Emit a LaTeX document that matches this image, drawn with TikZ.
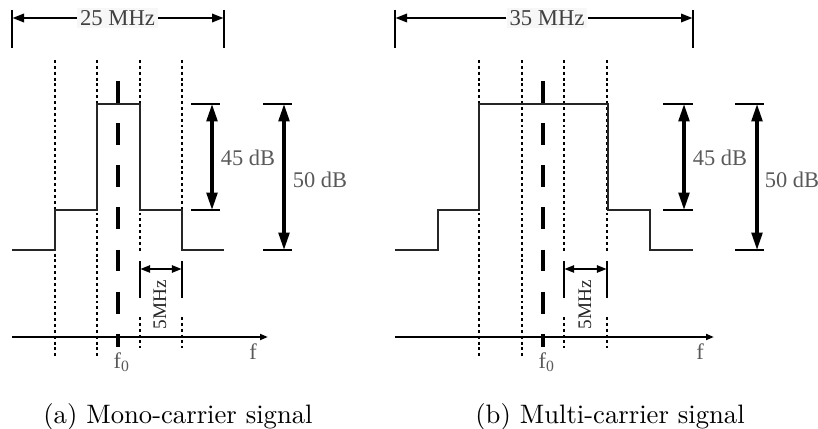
\documentclass[tikz,border=0pt]{standalone}
\usepackage{fontspec}
\newfontfamily\lbl{Liberation Serif}
\usetikzlibrary{arrows.meta}
\begin{document}
\begin{tikzpicture}[x=0.375pt,y=-0.375pt,
 sig/.style={line width=0.9pt, line join=miter, black!85},
 dotl/.style={line width=0.75pt, dash pattern=on 1.1pt off 1.1pt},
 ctr/.style={line width=1.3pt, dash pattern=on 8.2pt off 7.6pt},
 tickl/.style={line width=0.65pt},
 dimbig/.style={line width=1.2pt, {Triangle[length=6.5pt,width=4pt]}-{Triangle[length=6.5pt,width=4pt]}},
 dimtop/.style={line width=1.1pt, -{Triangle[length=4.5pt,width=3pt]}},
 dimsm/.style={line width=1pt, {Triangle[length=3.8pt,width=2.6pt]}-{Triangle[length=3.8pt,width=2.6pt]}},
 axisl/.style={line width=0.85pt, -{Triangle[length=3pt,width=2.2pt]}},
 lab/.style={font=\lbl\fontsize{8.4}{9}\selectfont, text=black!65, inner sep=0.5pt},
 toplab/.style={font=\lbl\fontsize{8.5}{9}\selectfont, text=black!75, fill=black!3, inner sep=1pt},
 rotlab/.style={font=\lbl\fontsize{7.2}{8}\selectfont, text=black!85, rotate=90, inner sep=0.5pt},
 captxt/.style={font=\normalsize, text=black, inner sep=0pt},
]
\useasboundingbox (0,0) rectangle (818,429);

% ================= Panel (a) =================
\coordinate (a-tl1) at (12,10);  \coordinate (a-tl2) at (12,48);
\coordinate (a-tr1) at (224,10); \coordinate (a-tr2) at (224,48);
\coordinate (a-tl) at (12,18);   \coordinate (a-tr) at (224,18);
\draw[tickl] (a-tl1) -- (a-tl2);
\draw[tickl] (a-tr1) -- (a-tr2);
\node[toplab] (a-w) at (117.5,18) {25 MHz};
\draw[dimtop] (a-w.west) -- (a-tl);
\draw[dimtop] (a-w.east) -- (a-tr);

\draw[dotl] (55,60) -- (55,358);
\draw[dotl] (97,60) -- (97,358);
\draw[dotl] (140,60) -- (140,252);
\draw[dotl] (140,317) -- (140,348);
\draw[dotl] (182,60) -- (182,252);
\draw[dotl] (182,317) -- (182,348);

\draw[ctr] (118,81) -- (118,347);

\draw[sig] (12,250) -- (55,250) -- (55,210) -- (97,210) -- (97,104) -- (140,104)
  -- (140,210) -- (182,210) -- (182,250) -- (224,250);

\coordinate (a-45t) at (212,104); \coordinate (a-45b) at (212,210);
\draw[tickl] (191,104) -- (220,104);
\draw[tickl] (191,210) -- (220,210);
\draw[dimbig] (a-45t) -- (a-45b);
\node[lab] (a-45) at (248,158) {45 dB};

\coordinate (a-50t) at (284,104); \coordinate (a-50b) at (284,250);
\draw[tickl] (263,104) -- (292,104);
\draw[tickl] (263,250) -- (292,250);
\draw[dimbig] (a-50t) -- (a-50b);
\node[lab] (a-50) at (320,180) {50 dB};

\coordinate (a-5l) at (140,269); \coordinate (a-5r) at (182,269);
\draw[tickl] (140,261) -- (140,298);
\draw[tickl] (182,261) -- (182,298);
\draw[dimsm] (a-5l) -- (a-5r);
\node[rotlab] (a-5) at (160,305) {5MHz};

\coordinate (a-x0) at (12,337); \coordinate (a-x1) at (268,337);
\draw[axisl] (a-x0) -- (a-x1);
\node[lab] (a-f) at (253,352) {f};
\node[lab] (a-f0) at (122,362) {f\textsubscript{0}};

\node[captxt] (a-cap) at (178,417) {(a) Mono-carrier signal};

% ================= Panel (b) =================
\coordinate (b-tl1) at (395,10);  \coordinate (b-tl2) at (395,48);
\coordinate (b-tr1) at (693,10);  \coordinate (b-tr2) at (693,48);
\coordinate (b-tl) at (395,18);   \coordinate (b-tr) at (693,18);
\draw[tickl] (b-tl1) -- (b-tl2);
\draw[tickl] (b-tr1) -- (b-tr2);
\node[toplab] (b-w) at (547,18) {35 MHz};
\draw[dimtop] (b-w.west) -- (b-tl);
\draw[dimtop] (b-w.east) -- (b-tr);

\draw[dotl] (479,60) -- (479,358);
\draw[dotl] (522,60) -- (522,358);
\draw[dotl] (564,60) -- (564,252);
\draw[dotl] (564,317) -- (564,348);
\draw[dotl] (607,60) -- (607,252);
\draw[dotl] (607,317) -- (607,348);

\draw[ctr] (543,81) -- (543,347);

\draw[sig] (395,250) -- (438,250) -- (438,210) -- (479,210) -- (479,104) -- (608,104)
  -- (608,210) -- (650,210) -- (650,250) -- (693,250);

\coordinate (b-45t) at (684,104); \coordinate (b-45b) at (684,210);
\draw[tickl] (663,104) -- (693,104);
\draw[tickl] (663,210) -- (693,210);
\draw[dimbig] (b-45t) -- (b-45b);
\node[lab] (b-45) at (720,158) {45 dB};

\coordinate (b-50t) at (757,104); \coordinate (b-50b) at (757,250);
\draw[tickl] (735,104) -- (764,104);
\draw[tickl] (735,250) -- (764,250);
\draw[dimbig] (b-50t) -- (b-50b);
\node[lab] (b-50) at (792,180) {50 dB};

\coordinate (b-5l) at (564,269); \coordinate (b-5r) at (607,269);
\draw[tickl] (564,261) -- (564,298);
\draw[tickl] (607,261) -- (607,298);
\draw[dimsm] (b-5l) -- (b-5r);
\node[rotlab] (b-5) at (585,305) {5MHz};

\coordinate (b-x0) at (395,337); \coordinate (b-x1) at (714,337);
\draw[axisl] (b-x0) -- (b-x1);
\node[lab] (b-f) at (700,352) {f};
\node[lab] (b-f0) at (547,362) {f\textsubscript{0}};

\node[captxt] (b-cap) at (610,417) {(b) Multi-carrier signal};
\end{tikzpicture}
\end{document}
